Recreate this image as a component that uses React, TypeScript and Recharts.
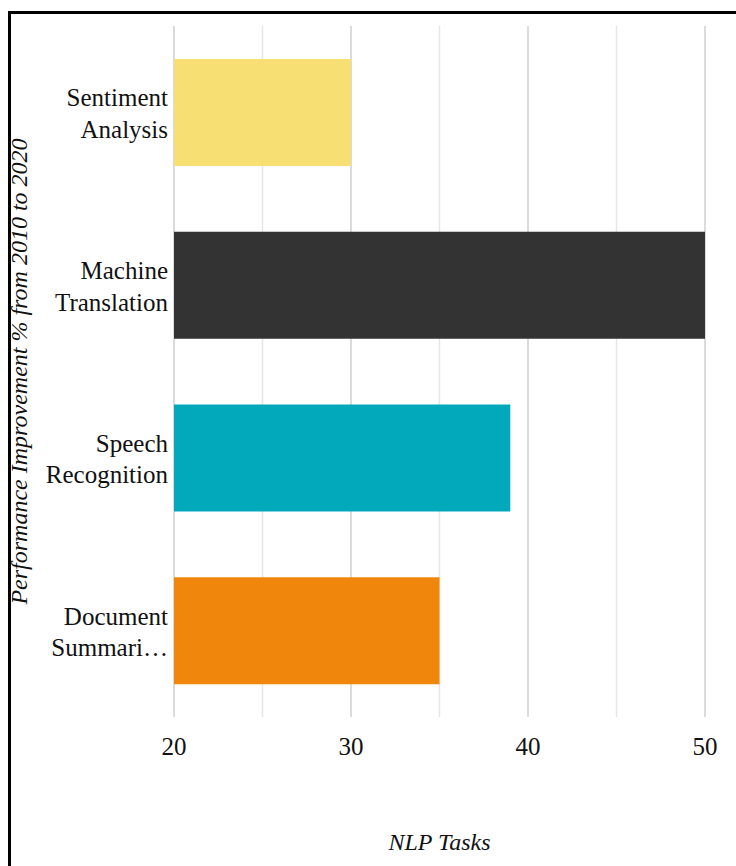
import { Bar, BarChart, CartesianGrid, Cell, Label, XAxis, YAxis } from "recharts";

const tasks = ["Sentiment Analysis", "Machine Translation", "Speech Recognition", "Document Summarization"];
const improvement = [30, 50, 39, 35];
const barColors = ["#f8df73", "#333333", "#02a9ba", "#f0870c"];
const xTicks = [20, 25, 30, 35, 40, 45, 50];
const labelledTicks = [20, 30, 40, 50];

const data = tasks.map((name, i) => ({ name, value: improvement[i] }));

const FONT = '"Liberation Serif", "Times New Roman", serif';
const TEXT = "#111111";

let measureCtx: CanvasRenderingContext2D | null = null;

// cut a word down with an ellipsis when it is wider than the label column
function fitWord(word: string, maxWidth: number) {
  if (!measureCtx) measureCtx = document.createElement("canvas").getContext("2d");
  if (!measureCtx) return word;
  measureCtx.font = `25px ${FONT}`;
  if (measureCtx.measureText(word).width <= maxWidth) return word;
  let s = word;
  while (s.length > 1 && measureCtx.measureText(s + "…").width > maxWidth) s = s.slice(0, -1);
  return s + "…";
}

function TaskTick({ x, y, payload }: any) {
  const lines = String(payload.value).split(" ").map((w) => fitWord(w, 125));
  return (
    <text x={x} y={y} textAnchor="end" fontFamily={FONT} fontSize={25} fill={TEXT}>
      {lines.map((line, i) => (
        <tspan key={i} x={x} dy={i === 0 ? -6 : 31.5}>
          {line}
        </tspan>
      ))}
    </text>
  );
}

function GridLine(p: any) {
  const major = p.index % 2 === 0;
  return (
    <line
      key={`grid-${p.index}`}
      x1={p.x1}
      x2={p.x2}
      y1={p.y1}
      y2={p.y2}
      stroke={major ? "#cfcfcf" : "#e6e6e6"}
      strokeWidth={1.5}
    />
  );
}

export default function App() {
  return (
    <div style={{ position: "fixed", left: 0, top: 0, width: 736, height: 866, background: "#fff" }}>
      <div
        style={{
          position: "absolute",
          left: 8,
          top: 11,
          width: 740,
          height: 870,
          borderLeft: "3px solid #000",
          borderTop: "3px solid #000",
        }}
      />
      <div style={{ position: "absolute", left: 0, top: 0 }}>
        <BarChart
          width={736}
          height={866}
          data={data}
          layout="vertical"
          margin={{ top: 26, right: 31, bottom: 89, left: 0 }}
        >
          <CartesianGrid horizontal={false} vertical={GridLine} />
          <XAxis
            type="number"
            domain={[20, 50]}
            ticks={xTicks}
            allowDataOverflow
            axisLine={false}
            tickLine={false}
            tickMargin={14}
            height={60}
            tickFormatter={(v: number) => (labelledTicks.includes(v) ? String(v) : "")}
            tick={{ fontFamily: FONT, fontSize: 25, fill: TEXT }}
          >
            <Label
              content={({ viewBox }: any) => {
                const vb = viewBox ?? { x: 174, y: 717, width: 531, height: 60 };
                return (
                  <text
                    x={vb.x + vb.width / 2}
                    y={vb.y + 133}
                    textAnchor="middle"
                    fontFamily={FONT}
                    fontStyle="italic"
                    fontSize={24}
                    fill={TEXT}
                  >
                    NLP Tasks
                  </text>
                );
              }}
            />
          </XAxis>
          <YAxis
            type="category"
            dataKey="name"
            width={174}
            axisLine={false}
            tickLine={false}
            tickMargin={0}
            tick={<TaskTick />}
          >
            <Label
              content={({ viewBox }: any) => {
                const vb = viewBox ?? { x: 0, y: 26, width: 174, height: 691 };
                const cx = vb.x + 27;
                const cy = vb.y + vb.height / 2;
                return (
                  <text
                    x={cx}
                    y={cy}
                    transform={`rotate(-90, ${cx}, ${cy})`}
                    textAnchor="middle"
                    fontFamily={FONT}
                    fontStyle="italic"
                    fontSize={24}
                    fill={TEXT}
                  >
                    Performance Improvement % from 2010 to 2020
                  </text>
                );
              }}
            />
          </YAxis>
          <Bar dataKey="value" barSize={107} isAnimationActive={false}>
            {data.map((d, i) => (
              <Cell key={d.name} fill={barColors[i]} />
            ))}
          </Bar>
        </BarChart>
      </div>
    </div>
  );
}
